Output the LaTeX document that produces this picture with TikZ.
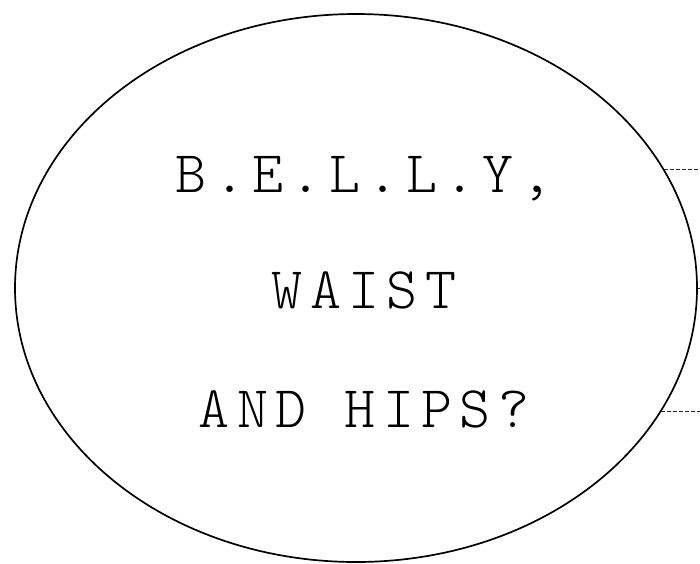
\documentclass[tikz,border=0pt]{standalone}
\usepackage{fontspec}
\usetikzlibrary{shapes.geometric}
\newfontfamily\capfont{lmmonolt10-regular.otf}[LetterSpace=12.5]

\begin{document}
\begin{tikzpicture}[
  outline/.style={ellipse, draw=black, line width=1.2pt, inner sep=0pt,
                  minimum width=17.05cm, minimum height=13.7cm},
  caption/.style={anchor=base, font=\capfont\fontsize{42}{50}\selectfont},
  guide/.style={draw=black!85, line width=0.6pt, dash pattern=on 2.8pt off 1.4pt},
]
\useasboundingbox (0,0) rectangle (17.5,-14.075);

% ─── ellipse and its text ──────────────────────────────────────────────────
\node[outline] (belly) at (8.9,-7.2) {};
\node[caption] (line1) at (9.1,-4.8) {B.E.L.L.Y,};
\node[caption] (line2) at (9.1,-7.7) {WAIST};
\node[caption] (line3) at (9.1,-10.675) {AND HIPS?};

% ─── leader lines (right side) ─────────────────────────────────────────────
\coordinate (rail) at (17.5,0);
\draw[guide] (belly.21.4) -- (belly.21.4 -| rail);
\draw[guide] (belly.east) -- (belly.east -| rail);
\draw[guide] (belly.-22.6) -- (belly.-22.6 -| rail);

\end{tikzpicture}
\end{document}
